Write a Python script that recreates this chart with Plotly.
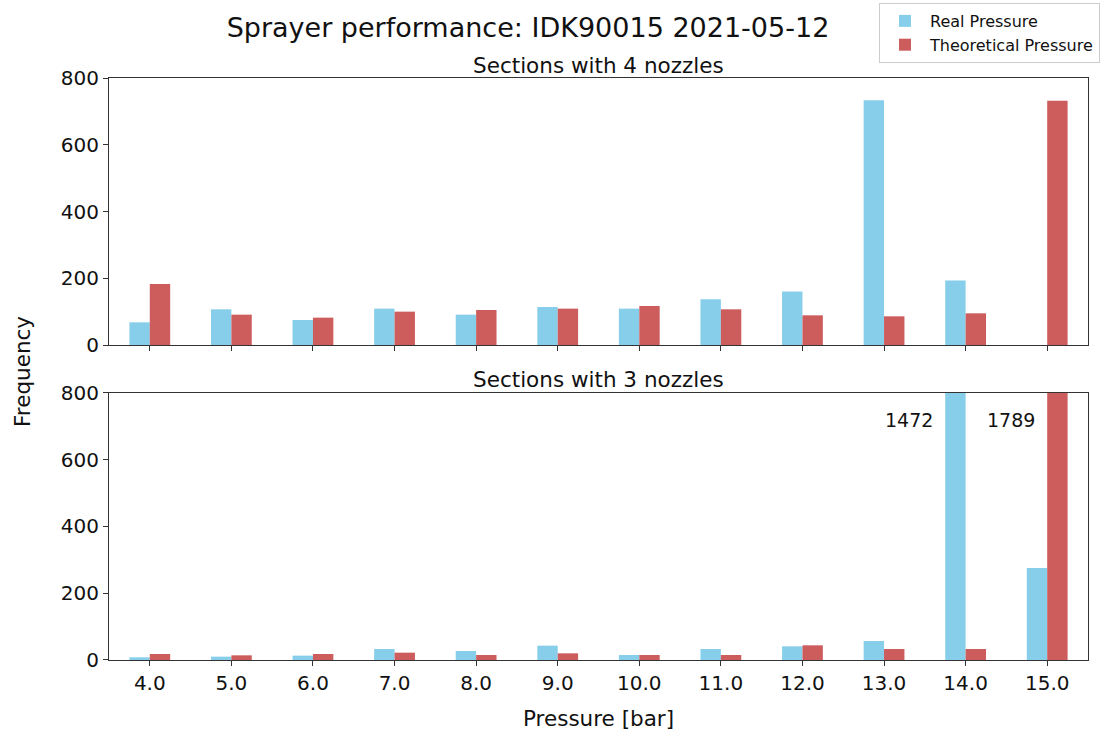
import plotly.graph_objects as go
from plotly.subplots import make_subplots

categories = ["4.0", "5.0", "6.0", "7.0", "8.0", "9.0", "10.0", "11.0", "12.0", "13.0", "14.0", "15.0"]
real_4 = [68, 107, 75, 109, 91, 114, 109, 137, 160, 733, 193, 0]
theo_4 = [183, 91, 82, 100, 105, 109, 117, 107, 89, 86, 95, 732]
real_3 = [8, 10, 13, 33, 27, 43, 15, 33, 41, 57, 1472, 276]
theo_3 = [18, 14, 18, 22, 15, 20, 15, 15, 44, 33, 33, 1789]
yticks = [0, 200, 400, 600, 800]

BLUE = "#87CEEB"
RED = "#CD5C5C"
FONT = "DejaVu Sans"
W, H = 1100, 731
ML, MR, MT, MB = 109, 12, 78, 71
PH = H - MT - MB
PW = W - ML - MR


def py(pix):
    return (H - MB - pix) / PH


def px(pix):
    return (pix - ML) / PW


fig = make_subplots(rows=2, cols=1, shared_xaxes=False, vertical_spacing=0.0824)

fig.add_trace(go.Bar(x=categories, y=real_4, name="Real Pressure", marker_color=BLUE,
                     marker_line_width=0, legendgroup="r"), row=1, col=1)
fig.add_trace(go.Bar(x=categories, y=theo_4, name="Theoretical Pressure", marker_color=RED,
                     marker_line_width=0, legendgroup="t"), row=1, col=1)
fig.add_trace(go.Bar(x=categories, y=real_3, name="Real Pressure", marker_color=BLUE,
                     marker_line_width=0, legendgroup="r", showlegend=False), row=2, col=1)
fig.add_trace(go.Bar(x=categories, y=theo_3, name="Theoretical Pressure", marker_color=RED,
                     marker_line_width=0, legendgroup="t", showlegend=False), row=2, col=1)

axis_common = dict(showline=True, linecolor="#333333", linewidth=1, mirror=True,
                   ticks="outside", ticklen=5, tickcolor="#333333", showgrid=False,
                   zeroline=False, tickfont=dict(family=FONT, size=20, color="#111111"))

fig.update_xaxes(**axis_common, type="category", range=[-0.5, 11.5])
fig.update_xaxes(showticklabels=False, row=1, col=1)
fig.update_yaxes(**axis_common, range=[0, 800], tickvals=yticks)

fig.update_layout(
    width=W, height=H,
    margin=dict(l=ML, r=MR, t=MT, b=MB, autoexpand=False),
    barmode="group", bargap=0.5, bargroupgap=0,
    plot_bgcolor="white", paper_bgcolor="white",
    font=dict(family=FONT, color="#111111"),
    title=dict(text="Sprayer performance: IDK90015 2021-05-12", x=528 / W, xanchor="center",
               y=1 - 28 / H, yanchor="middle", font=dict(family=FONT, size=27, color="#111111")),
    legend=dict(x=1.0, y=1.0 - 3 / H, xref="container", yref="container", xanchor="right", yanchor="top",
                bordercolor="#cccccc", borderwidth=1, bgcolor="white",
                font=dict(family=FONT, size=16, color="#111111"), tracegroupgap=0,
                itemwidth=40),
    showlegend=True,
)

tf = dict(family=FONT, size=21.5, color="#111111")
fig.add_annotation(text="Sections with 4 nozzles", xref="paper", yref="paper", x=0.5, y=py(65),
                   xanchor="center", yanchor="middle", showarrow=False, font=tf)
fig.add_annotation(text="Sections with 3 nozzles", xref="paper", yref="paper", x=0.5, y=py(380),
                   xanchor="center", yanchor="middle", showarrow=False, font=tf)
fig.add_annotation(text="Frequency", xref="paper", yref="paper", x=px(22), y=py(372),
                   xanchor="center", yanchor="middle", textangle=-90, showarrow=False, font=tf)
fig.add_annotation(text="Pressure [bar]", xref="paper", yref="paper", x=px(598), y=py(718),
                   xanchor="center", yanchor="middle", showarrow=False, font=tf)

fig.add_annotation(text=str(real_3[10]), xref="x2", yref="y2", x=9.62, y=720, xanchor="right",
                   yanchor="middle", showarrow=False, font=dict(family=FONT, size=19, color="#111111"))
fig.add_annotation(text=str(theo_3[11]), xref="x2", yref="y2", x=10.87, y=720, xanchor="right",
                   yanchor="middle", showarrow=False, font=dict(family=FONT, size=19, color="#111111"))

fig.write_html("out.html")
